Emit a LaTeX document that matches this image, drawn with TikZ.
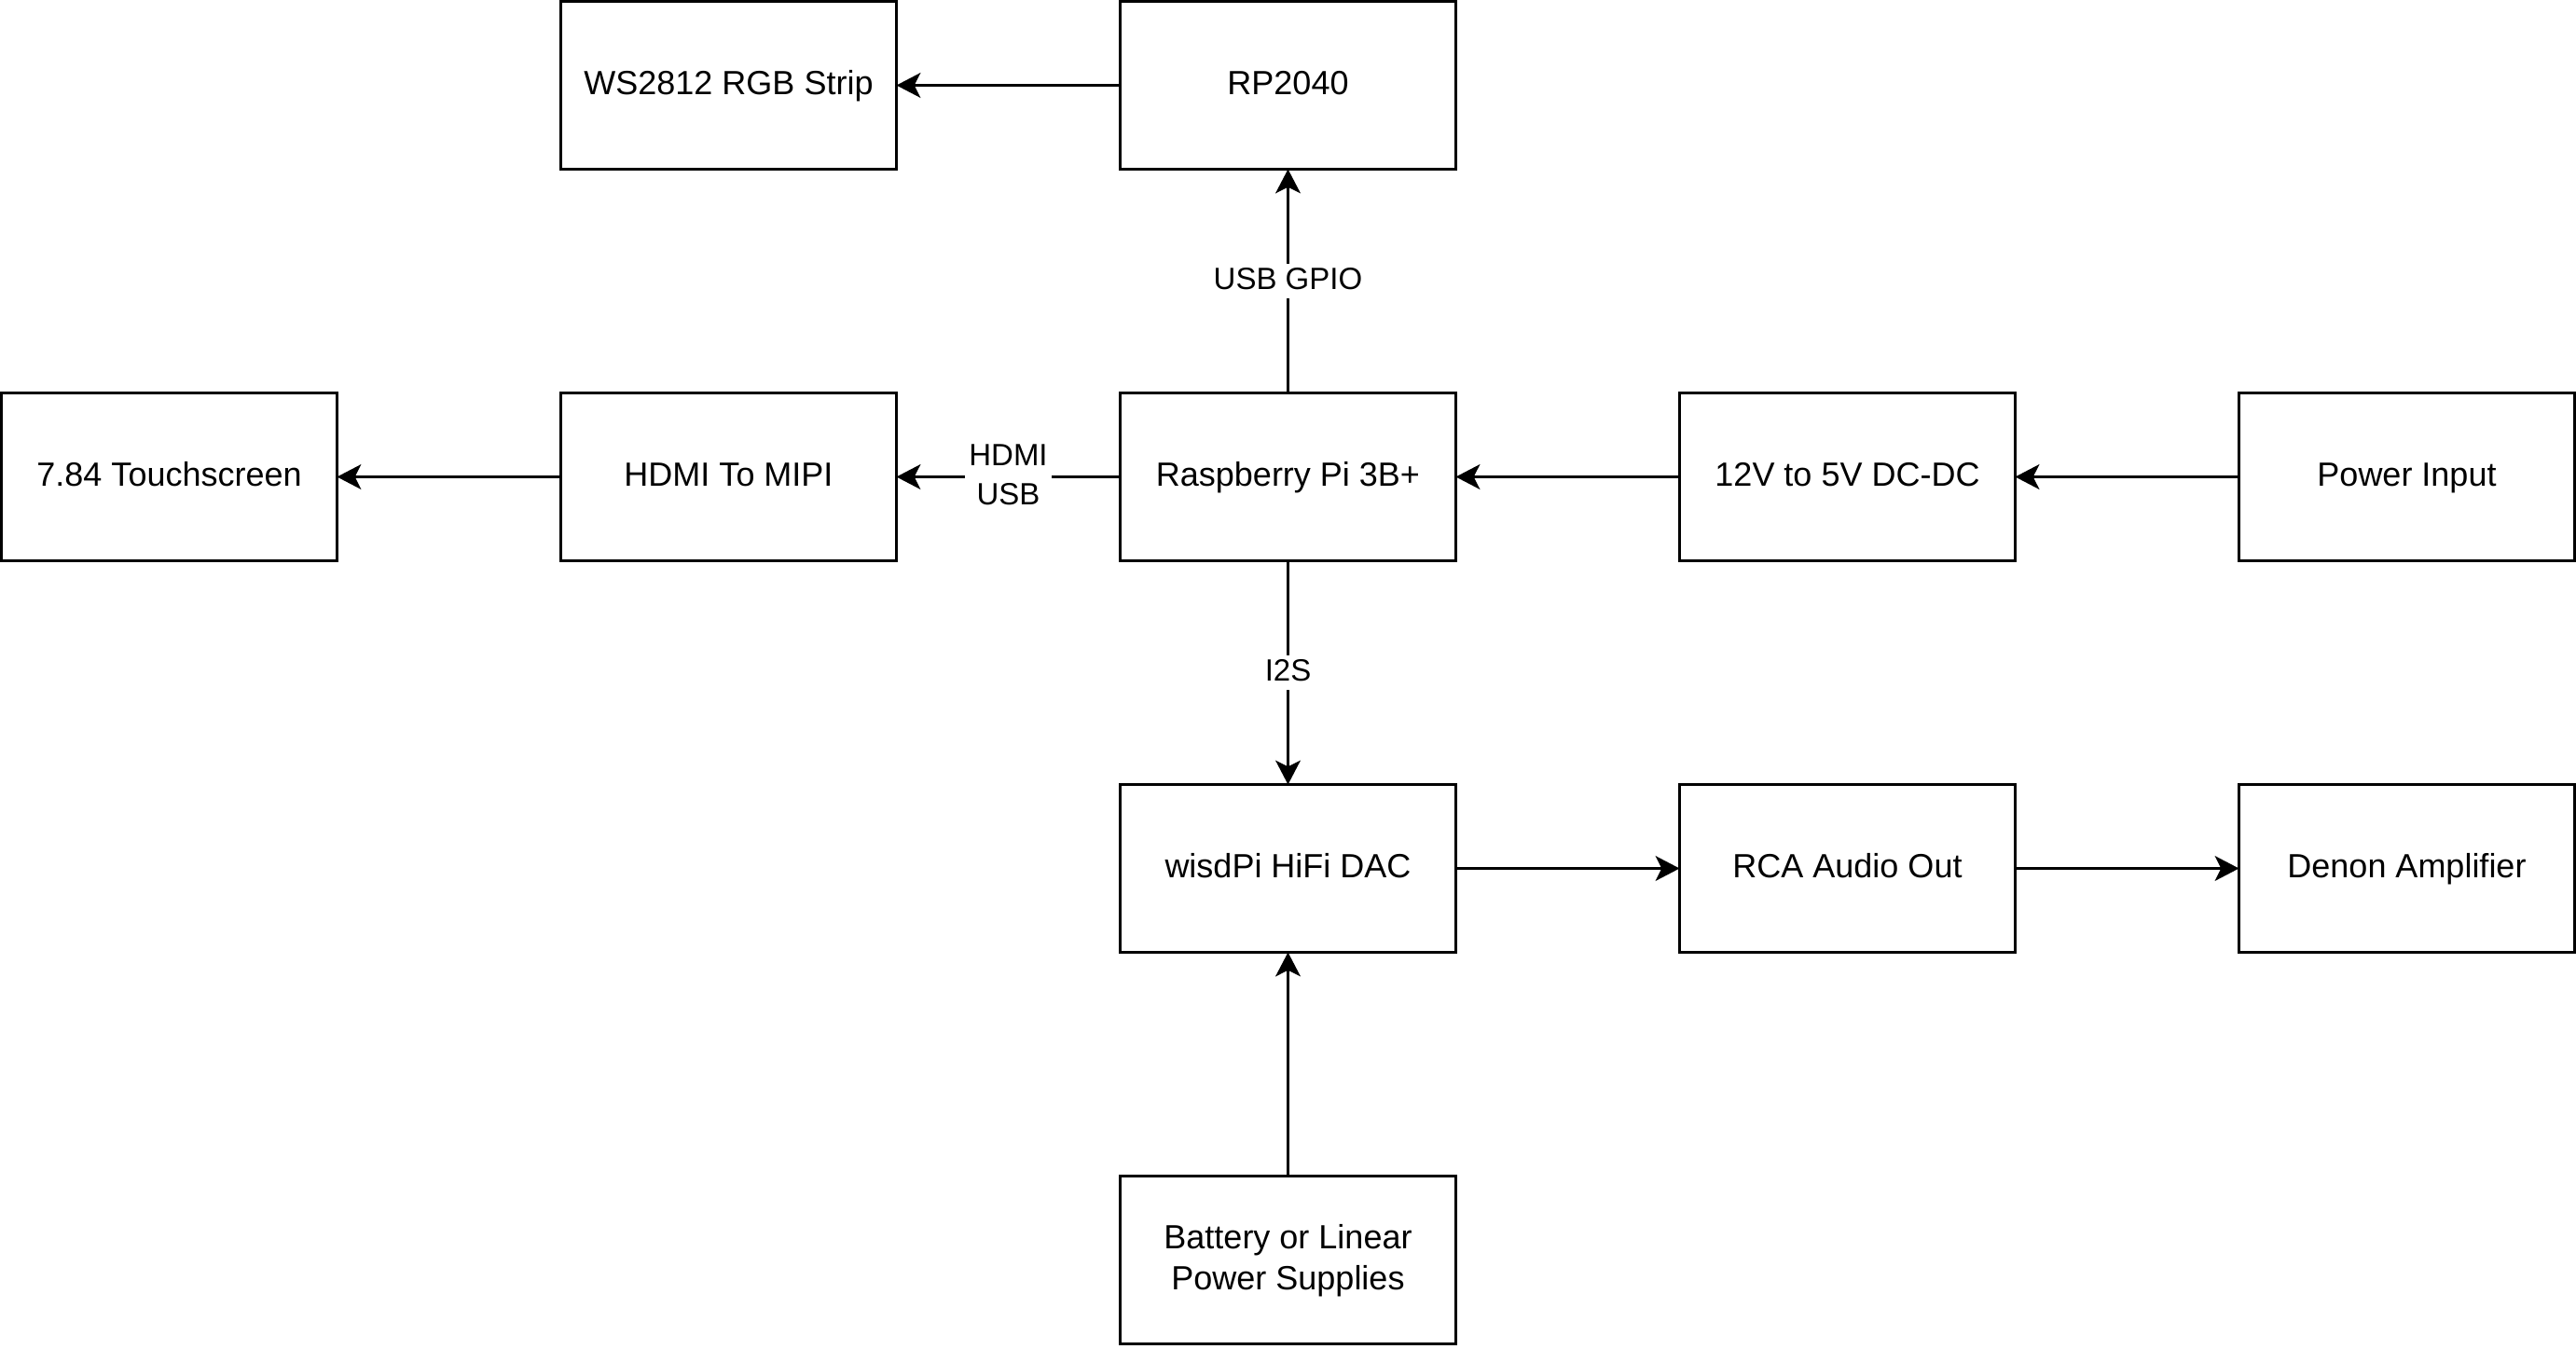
\documentclass[tikz,border=0pt]{standalone}
\usepackage{fontspec}
\setmainfont{Liberation Sans}
\usetikzlibrary{arrows.meta}
\newcommand\bst{\rule[-2.7pt]{0pt}{12.2pt}}
\newcommand\lst{\rule[-2.5pt]{0pt}{11.2pt}}
\begin{document}
\begin{tikzpicture}[x=1pt,y=-1pt,
  blk/.style={draw=black,line width=1pt,minimum width=120pt,minimum height=60pt,
    inner sep=0pt,outer sep=0pt,align=center,font=\fontsize{12}{14.6}\selectfont},
  conn/.style={draw=black,line width=1pt,-{Stealth[length=8.6pt,width=8.9pt,inset=2.2pt]}},
  lbl/.style={fill=white,inner sep=1.5pt,inner ysep=0.5pt,align=center,font=\fontsize{11}{14}\selectfont}]
\useasboundingbox[fill=white] (-0.5,-0.5) rectangle (920.5,481.5);
\node[blk] (ws)  at (260,30)  {\bst WS2812 RGB Strip};
\node[blk] (rp)  at (460,30)  {\bst RP2040};
\node[blk] (ts)  at (60,170)  {\bst 7.84 Touchscreen};
\node[blk] (hm)  at (260,170) {\bst HDMI To MIPI};
\node[blk] (pi)  at (460,170) {\bst Raspberry Pi 3B+};
\node[blk] (dc)  at (660,170) {\bst 12V to 5V DC-DC};
\node[blk] (pw)  at (860,170) {\bst Power Input};
\node[blk] (dac) at (460,310) {\bst wisdPi HiFi DAC};
\node[blk] (rca) at (660,310) {\bst RCA Audio Out};
\node[blk] (den) at (860,310) {\bst Denon Amplifier};
\node[blk] (bat) at (460,450) {\bst Battery or Linear\\\bst Power Supplies};
\draw[conn] (rp.west) -- (ws.east);
\draw[conn] (pi.north) -- node[lbl] (l1) {\lst USB GPIO} (rp.south);
\draw[conn] (hm.west) -- (ts.east);
\draw[conn] (pi.west) -- node[lbl] (l2) {\lst HDMI\\\lst USB} (hm.east);
\draw[conn] (dc.west) -- (pi.east);
\draw[conn] (pw.west) -- (dc.east);
\draw[conn] (pi.south) -- node[lbl] (l3) {\lst I2S} (dac.north);
\draw[conn] (dac.east) -- (rca.west);
\draw[conn] (rca.east) -- (den.west);
\draw[conn] (bat.north) -- (dac.south);
\end{tikzpicture}
\end{document}
